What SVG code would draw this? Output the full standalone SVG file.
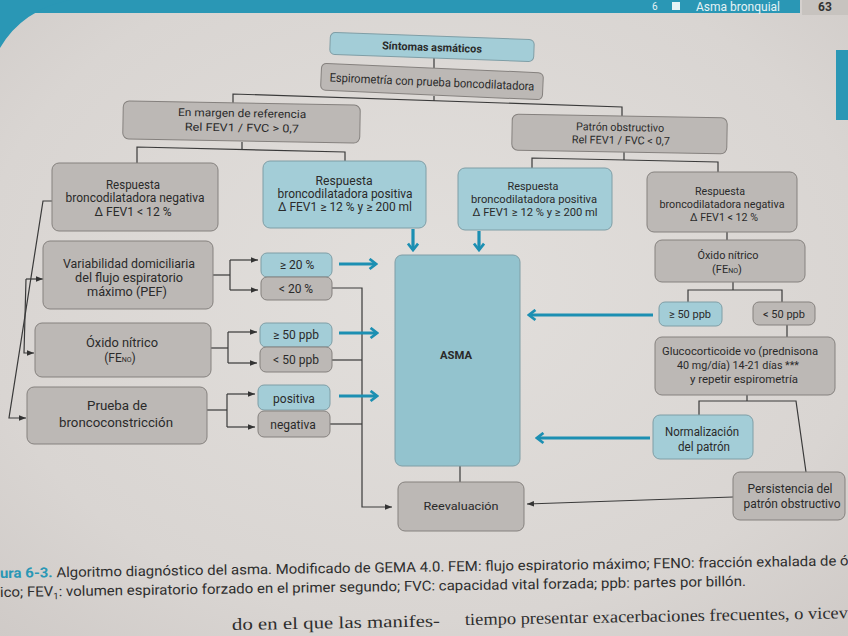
<svg xmlns="http://www.w3.org/2000/svg" width="848" height="636" viewBox="0 0 848 636">
<defs>
<radialGradient id="pg" cx="0.5" cy="0.45" r="0.75">
<stop offset="0" stop-color="#e2dfdc"/>
<stop offset="0.7" stop-color="#d9d5d2"/>
<stop offset="1" stop-color="#cfcac7"/>
</radialGradient>
<marker id="ah" viewBox="0 0 10 10" refX="10" refY="5" markerWidth="7" markerHeight="7" markerUnits="userSpaceOnUse" orient="auto"><path d="M0,1 L10,5 L0,9 Z" fill="#333"/></marker>
<marker id="bh" viewBox="0 0 12 14" refX="10" refY="7" markerWidth="11" markerHeight="13" markerUnits="userSpaceOnUse" orient="auto"><path d="M3,1.5 L10,7 L3,12.5" fill="none" stroke="#1c8fb2" stroke-width="3"/></marker>
</defs>
<style>
.g{fill:#bcb8b5;stroke:#85817e;stroke-width:1}
.b{fill:#a3cdd7;stroke:#7f9ea6;stroke-width:1}
.a{fill:#93c3ce;stroke:#7f9ea6;stroke-width:1}
.t{font-family:Roboto,"Liberation Sans",sans-serif;font-size:11px;fill:#2a2a2a;text-anchor:middle}
.s{font-size:12px}
.bd{font-weight:bold}
.c{fill:none;stroke:#3a3a3a;stroke-width:1.2}
.ba{fill:none;stroke:#1c8fb2;stroke-width:3.2}
.cap{font-family:Roboto,"Liberation Sans",sans-serif;font-size:14px;fill:#2e2e2e}
.body{font-family:"Liberation Serif",serif;font-size:17px;fill:#2e2e2e}
</style>

<rect x="0" y="0" width="848" height="636" fill="url(#pg)"/>

<g id="header">
<rect x="0" y="0" width="800" height="13" fill="#2a97b5"/>
<path d="M0,0 H70 Q22,10 0,48 Z" fill="#2a97b5"/>
<text x="652" y="10" font-family="Roboto,sans-serif" font-size="10" fill="#e6f3f6">6</text>
<rect x="672" y="2" width="8" height="8" fill="#e6f3f6"/>
<text x="696" y="11" font-family="Roboto,sans-serif" font-size="12" fill="#e6f3f6">Asma bronquial</text>
<rect x="802" y="0" width="46" height="15" fill="#c7c3bf"/>
<text x="818" y="11" font-family="Roboto,sans-serif" font-size="12" font-weight="bold" fill="#333">63</text>
<rect x="836" y="50" width="12" height="70" fill="#2a97b5"/>
</g>

<g id="connectors">
<path class="c" d="M434,58 V68"/>
<path class="c" d="M434,96 V101"/>
<path class="c" d="M233,104 V94 L622,107 V116"/>
<path class="c" d="M242,142 V149.5"/>
<path class="c" d="M137,163 V147 L345,152 V161"/>
<path class="c" d="M624,152 V160"/>
<path class="c" d="M532,168 V158 L718,162 V172"/>
<path class="c" d="M54,201 H43 L9,418 H26" marker-end="url(#ah)"/>
<path class="c" d="M26,279 H43" marker-end="url(#ah)"/>
<path class="c" d="M26,279 L24,353 H34" marker-end="url(#ah)"/>
<path class="c" d="M213,275 H230"/>
<path class="c" d="M230,260 V290"/>
<path class="c" d="M230,260 H258" marker-end="url(#ah)"/>
<path class="c" d="M230,290 H258" marker-end="url(#ah)"/>
<path class="c" d="M211,348 H228"/>
<path class="c" d="M228,332 V363"/>
<path class="c" d="M228,332 H257" marker-end="url(#ah)"/>
<path class="c" d="M228,363 H257" marker-end="url(#ah)"/>
<path class="c" d="M207,410 H227"/>
<path class="c" d="M227,394 V427"/>
<path class="c" d="M227,394 H255" marker-end="url(#ah)"/>
<path class="c" d="M227,427 H255" marker-end="url(#ah)"/>
<path class="c" d="M332,288 H362 V507 H392" marker-end="url(#ah)"/>
<path class="c" d="M332,360 H362"/>
<path class="c" d="M330,424 H362"/>
<path class="c" d="M460,466 V482"/>
<path class="c" d="M727,232 V240"/>
<path class="c" d="M733,282 V290"/>
<path class="c" d="M688,302 V290 H782 V302"/>
<path class="c" d="M787,325 V337"/>
<path class="c" d="M747,395 V401"/>
<path class="c" d="M699,415 V401 H796 L806,472"/>
<path class="c" d="M733,497 L527,504" marker-end="url(#ah)"/>
<path class="ba" d="M339,264 H376" marker-end="url(#bh)"/>
<path class="ba" d="M339,333 H377" marker-end="url(#bh)"/>
<path class="ba" d="M339,396 H377" marker-end="url(#bh)"/>
<path class="ba" d="M413,229 V250" marker-end="url(#bh)"/>
<path class="ba" d="M479,231 V250" marker-end="url(#bh)"/>
<path class="ba" d="M653,315 H529" marker-end="url(#bh)"/>
<path class="ba" d="M650,438 H537" marker-end="url(#bh)"/>
</g>

<g id="sintomas" transform="rotate(2 432 47)">
<rect class="b" x="330" y="36" width="204" height="22" rx="5"/>
<text class="t bd" x="432" y="51" textLength="100" lengthAdjust="spacingAndGlyphs">Síntomas asmáticos</text>
</g>
<g id="espirometria" transform="rotate(2.5 432 81)">
<rect class="g" x="321" y="68" width="222" height="27" rx="5"/>
<text class="t s" x="432" y="86" textLength="205" lengthAdjust="spacingAndGlyphs">Espirometría con prueba boncodilatadora</text>
</g>
<g id="margen" transform="rotate(1 241 122)">
<rect class="g" x="123" y="103" width="237" height="38" rx="6"/>
<text class="t" x="242" y="117" textLength="128" lengthAdjust="spacingAndGlyphs">En margen de referencia</text>
<text class="t" x="242" y="131.5" textLength="114" lengthAdjust="spacingAndGlyphs">Rel FEV1 / FVC &gt; 0,7</text>
</g>
<g id="patron" transform="rotate(1 620 134)">
<rect class="g" x="512" y="116" width="215" height="36" rx="6"/>
<text class="t" x="620" y="131" textLength="88" lengthAdjust="spacingAndGlyphs">Patrón obstructivo</text>
<text class="t" x="621" y="144" textLength="98" lengthAdjust="spacingAndGlyphs">Rel FEV1 / FVC &lt; 0,7</text>
</g>
<g id="resp-neg-izq">
<rect class="g" x="52" y="163" width="166" height="68" rx="7"/>
<text class="t s" x="133" y="189" textLength="54" lengthAdjust="spacingAndGlyphs">Respuesta</text>
<text class="t s" x="135" y="202" textLength="139" lengthAdjust="spacingAndGlyphs">broncodilatadora negativa</text>
<text class="t s" x="133" y="216" textLength="77" lengthAdjust="spacingAndGlyphs">Δ FEV1 &lt; 12 %</text>
</g>
<g id="resp-pos-izq">
<rect class="b" x="263" y="161" width="163" height="67" rx="7"/>
<text class="t s" x="344" y="185" textLength="57" lengthAdjust="spacingAndGlyphs">Respuesta</text>
<text class="t s" x="345" y="198" textLength="135" lengthAdjust="spacingAndGlyphs">broncodilatadora positiva</text>
<text class="t s" x="345" y="211" textLength="134" lengthAdjust="spacingAndGlyphs">Δ FEV1 ≥ 12 % y ≥ 200 ml</text>
</g>
<g id="resp-pos-der">
<rect class="b" x="458" y="168" width="154" height="62" rx="7"/>
<text class="t" x="533" y="190" textLength="51" lengthAdjust="spacingAndGlyphs">Respuesta</text>
<text class="t" x="534" y="203" textLength="126" lengthAdjust="spacingAndGlyphs">broncodilatadora positiva</text>
<text class="t" x="535" y="216" textLength="125" lengthAdjust="spacingAndGlyphs">Δ FEV1 ≥ 12 % y ≥ 200 ml</text>
</g>
<g id="resp-neg-der">
<rect class="g" x="647" y="172" width="150" height="60" rx="7"/>
<text class="t" x="720" y="195" textLength="50" lengthAdjust="spacingAndGlyphs">Respuesta</text>
<text class="t" x="722" y="208" textLength="125" lengthAdjust="spacingAndGlyphs">broncodilatadora negativa</text>
<text class="t" x="724" y="221" textLength="68" lengthAdjust="spacingAndGlyphs">Δ FEV1 &lt; 12 %</text>
</g>
<g id="variabilidad">
<rect class="g" x="43" y="241" width="170" height="68" rx="7"/>
<text class="t s" x="129" y="268" textLength="132" lengthAdjust="spacingAndGlyphs">Variabilidad domiciliaria</text>
<text class="t s" x="129" y="282" textLength="108" lengthAdjust="spacingAndGlyphs">del flujo espiratorio</text>
<text class="t s" x="127" y="296" textLength="80" lengthAdjust="spacingAndGlyphs">máximo (PEF)</text>
</g>
<g id="pef-alto">
<rect class="b" x="261" y="253" width="71" height="24" rx="6"/>
<text class="t s" x="297" y="269">≥ 20 %</text>
</g>
<g id="pef-bajo">
<rect class="g" x="261" y="277" width="71" height="23" rx="6"/>
<text class="t s" x="296" y="293">&lt; 20 %</text>
</g>
<g id="oxido-izq">
<rect class="g" x="35" y="323" width="176" height="54" rx="7"/>
<text class="t s" x="122" y="347" textLength="72" lengthAdjust="spacingAndGlyphs">Óxido nítrico</text>
<text class="t s" x="120" y="362">(FE<tspan font-size="7">NO</tspan>)</text>
</g>
<g id="feno-alto-izq">
<rect class="b" x="260" y="323" width="72" height="24" rx="6"/>
<text class="t s" x="296" y="339">≥ 50 ppb</text>
</g>
<g id="feno-bajo-izq">
<rect class="g" x="260" y="347" width="72" height="25" rx="6"/>
<text class="t s" x="296" y="364">&lt; 50 ppb</text>
</g>
<g id="prueba">
<rect class="g" x="27" y="387" width="180" height="57" rx="7"/>
<text class="t s" x="117" y="410" textLength="60" lengthAdjust="spacingAndGlyphs">Prueba de</text>
<text class="t s" x="116" y="427" textLength="114" lengthAdjust="spacingAndGlyphs">broncoconstricción</text>
</g>
<g id="positiva">
<rect class="b" x="258" y="385" width="72" height="25" rx="6"/>
<text class="t s" x="294" y="403">positiva</text>
</g>
<g id="negativa">
<rect class="g" x="258" y="411" width="72" height="26" rx="6"/>
<text class="t s" x="293" y="429">negativa</text>
</g>
<g id="asma">
<rect class="a" x="395" y="255" width="125" height="211" rx="7"/>
<text class="t bd" x="456" y="359" textLength="32" lengthAdjust="spacingAndGlyphs">ASMA</text>
</g>
<g id="reevaluacion">
<rect class="g" x="398" y="482" width="126" height="49" rx="7"/>
<text class="t" x="461" y="510" font-size="13" textLength="75" lengthAdjust="spacingAndGlyphs">Reevaluación</text>
</g>
<g id="oxido-der">
<rect class="g" x="655" y="240" width="150" height="42" rx="7"/>
<text class="t" x="728" y="259" textLength="61" lengthAdjust="spacingAndGlyphs">Óxido nítrico</text>
<text class="t" x="727" y="273">(FE<tspan font-size="7">NO</tspan>)</text>
</g>
<g id="feno-alto-der">
<rect class="b" x="659" y="302" width="63" height="24" rx="6"/>
<text class="t" x="690" y="318">≥ 50 ppb</text>
</g>
<g id="feno-bajo-der">
<rect class="g" x="753" y="302" width="62" height="23" rx="6"/>
<text class="t" x="784" y="318">&lt; 50 ppb</text>
</g>
<g id="glucocorticoide">
<rect class="g" x="655" y="337" width="180" height="58" rx="7"/>
<text class="t" x="740" y="355" textLength="156" lengthAdjust="spacingAndGlyphs">Glucocorticoide vo (prednisona</text>
<text class="t" x="738" y="369" textLength="122" lengthAdjust="spacingAndGlyphs">40 mg/día) 14-21 días ***</text>
<text class="t" x="744" y="383" textLength="108" lengthAdjust="spacingAndGlyphs">y repetir espirometría</text>
</g>
<g id="normalizacion">
<rect class="b" x="653" y="415" width="100" height="44" rx="7"/>
<text class="t s" x="702" y="436" textLength="74" lengthAdjust="spacingAndGlyphs">Normalización</text>
<text class="t s" x="704" y="451" textLength="52" lengthAdjust="spacingAndGlyphs">del patrón</text>
</g>
<g id="persistencia">
<rect class="g" x="733" y="472" width="112" height="48" rx="7"/>
<text class="t s" x="790" y="493" textLength="85" lengthAdjust="spacingAndGlyphs">Persistencia del</text>
<text class="t s" x="792" y="508" textLength="97" lengthAdjust="spacingAndGlyphs">patrón obstructivo</text>
</g>

<g id="caption">
<text class="cap" x="0" y="578" transform="rotate(-0.85 0 578)" textLength="856" lengthAdjust="spacingAndGlyphs"><tspan fill="#2a97b5" font-weight="bold">ura 6-3.</tspan> Algoritmo diagnóstico del asma. Modificado de GEMA 4.0. FEM: flujo espiratorio máximo; FENO: fracción exhalada de óx</text>
<text class="cap" x="0" y="597" transform="rotate(-0.85 0 597)" textLength="746" lengthAdjust="spacingAndGlyphs">ico; FEV<tspan font-size="9" dy="3">1</tspan><tspan dy="-3">: volumen espiratorio forzado en el primer segundo; FVC: capacidad vital forzada; ppb: partes por billón.</tspan></text>
<text class="body" x="232" y="630" transform="rotate(-1 232 630)" textLength="208" lengthAdjust="spacingAndGlyphs">do en el que las manifes-</text>
<text class="body" x="465" y="625" transform="rotate(-1 465 625)" textLength="383" lengthAdjust="spacingAndGlyphs">tiempo presentar exacerbaciones frecuentes, o vicev</text>
</g>
</svg>
